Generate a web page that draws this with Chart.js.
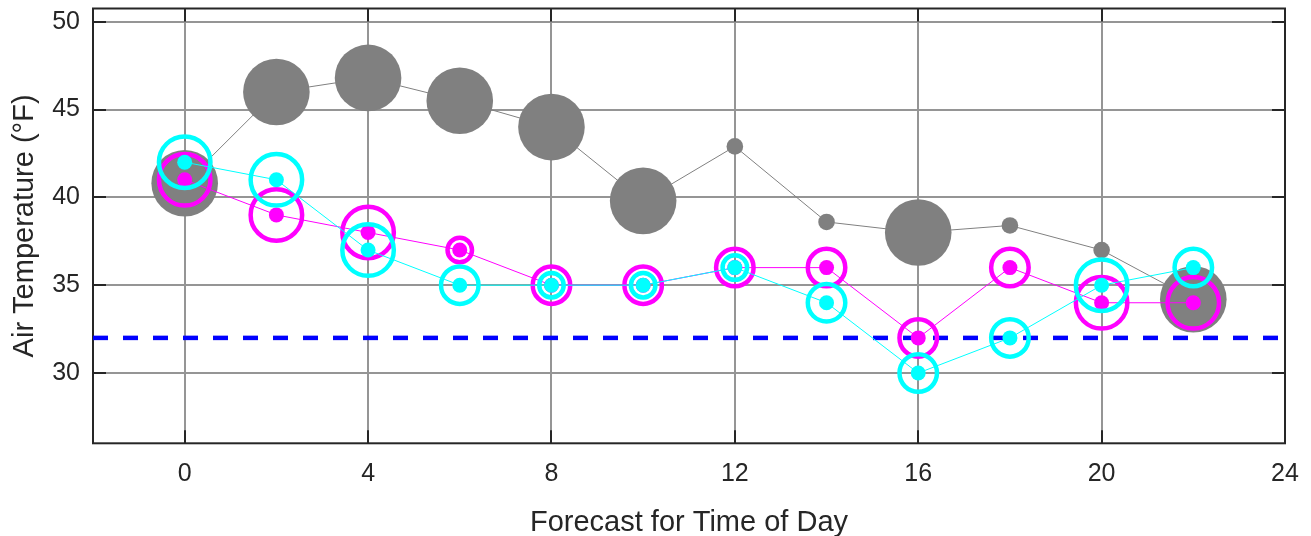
<!DOCTYPE html>
<html><head><meta charset="utf-8">
<script src="https://cdn.jsdelivr.net/npm/chart.js@4/dist/chart.umd.min.js"></script>
<style>html,body{margin:0;padding:0;background:#fff;}#wrap{width:1311px;height:536px;position:relative;}</style>
</head><body><div id="wrap"><canvas id="c"></canvas></div>
<script>
// ---- data ----
const hours = [0, 2, 4, 6, 8, 10, 12, 14, 16, 18, 20, 22];
const observedTemp = [40.8, 46.0, 46.8, 45.5, 44.0, 39.8, 42.9, 38.6, 38.0, 38.4, 37.0, 34.2];
const forecastA = [41, 39, 38, 37, 35, 35, 36, 36, 32, 36, 34, 34];
const forecastB = [42, 41, 37, 35, 35, 35, 36, 34, 30, 32, 35, 36];
const observedLevel = [3, 3, 3, 3, 3, 3, 1, 1, 3, 1, 1, 3];
const forecastALevel = [3, 3, 3, 1, 2, 2, 2, 2, 2, 2, 3, 3];
const forecastBLevel = [3, 3, 3, 2, 1, 1, 1, 2, 2, 2, 3, 2];
const freezingTemp = 32;
const xTicks = [0, 4, 8, 12, 16, 20, 24];
const yTicks = [30, 35, 40, 45, 50];
const xRange = [-2, 24];
const yRange = [26, 50.75];

// ---- styles ----
const GREY = '#808080', MAG = '#ff00ff', CYAN = '#00ffff', BLUE = '#0000ff', INK = '#262626';
const greyRadius = {1: 8.3, 2: 20, 3: 33.3};
const ringOuter = {1: 14.5, 2: 21, 3: 28};
const RING_W = 4.5;
const ringRadius = lv => ringOuter[lv] - RING_W / 2;
const pts = (ys) => hours.map((h, i) => ({x: h, y: ys[i]}));

const frame = {
  id: 'frame',
  beforeDatasetsDraw(chart) {
    const {ctx, chartArea: a, scales: {x, y}} = chart;
    ctx.save();
    ctx.strokeStyle = INK; ctx.lineWidth = 2;
    ctx.beginPath();
    xTicks.forEach(v => {
      const px = Math.round(x.getPixelForValue(v));
      ctx.moveTo(px, a.bottom); ctx.lineTo(px, a.bottom - 13);
      ctx.moveTo(px, a.top); ctx.lineTo(px, a.top + 13);
    });
    yTicks.forEach(v => {
      const py = Math.round(y.getPixelForValue(v));
      ctx.moveTo(a.left, py); ctx.lineTo(a.left + 13, py);
      ctx.moveTo(a.right, py); ctx.lineTo(a.right - 13, py);
    });
    ctx.stroke();
    ctx.strokeRect(a.left, a.top, a.right - a.left, a.bottom - a.top);
    ctx.restore();
  }
};

new Chart(document.getElementById('c'), {
  type: 'scatter',
  data: {
    datasets: [
      {label: 'freezing', data: [{x: xRange[0], y: freezingTemp}, {x: xRange[1], y: freezingTemp}],
       showLine: true, borderColor: BLUE, borderWidth: 4.5, borderDash: [15, 15], pointRadius: 0, order: 10},
      {label: 'observed', data: pts(observedTemp), showLine: true, borderColor: GREY, borderWidth: 1,
       pointRadius: observedLevel.map(l => greyRadius[l]), pointBackgroundColor: GREY, pointBorderWidth: 0, order: 9},
      {label: 'A', data: pts(forecastA), showLine: true, borderColor: MAG, borderWidth: 1,
       pointRadius: 7.5, pointBackgroundColor: MAG, pointBorderWidth: 0, order: 8},
      {label: 'A ring', data: pts(forecastA), showLine: false,
       pointRadius: forecastALevel.map(ringRadius), pointBackgroundColor: 'rgba(0,0,0,0)', pointBorderColor: MAG, pointBorderWidth: RING_W, order: 7},
      {label: 'B', data: pts(forecastB), showLine: true, borderColor: CYAN, borderWidth: 1,
       pointRadius: 7.5, pointBackgroundColor: CYAN, pointBorderWidth: 0, order: 6},
      {label: 'B ring', data: pts(forecastB), showLine: false,
       pointRadius: forecastBLevel.map(ringRadius), pointBackgroundColor: 'rgba(0,0,0,0)', pointBorderColor: CYAN, pointBorderWidth: RING_W, order: 5}
    ]
  },
  options: {
    responsive: true, maintainAspectRatio: false, devicePixelRatio: 1, animation: false,
    layout: {padding: {left: 0, top: 8.5, right: 26, bottom: 0}, autoPadding: false},
    plugins: {legend: {display: false}, tooltip: {enabled: false}},
    elements: {point: {hoverRadius: 0}},
    scales: {
      x: {
        type: 'linear', min: xRange[0], max: xRange[1],
        afterBuildTicks: s => { s.ticks = xTicks.map(v => ({value: v})); },
        afterFit: s => { s.height = 536 - 443.3; s.paddingLeft = 0; s.paddingRight = 0; },
        grid: {color: '#959595', lineWidth: 2, drawTicks: false},
        border: {display: false},
        ticks: {color: INK, padding: 16, font: {family: 'Liberation Sans, Arial, sans-serif', size: 25}, maxRotation: 0, autoSkip: false},
        title: {display: true, text: 'Forecast for Time of Day', color: INK, padding: {top: 0, bottom: 0},
                font: {family: 'Liberation Sans, Arial, sans-serif', size: 29, lineHeight: 0.88}}
      },
      y: {
        type: 'linear', min: yRange[0], max: yRange[1],
        afterBuildTicks: s => { s.ticks = yTicks.map(v => ({value: v})); },
        afterFit: s => { s.width = 93; s.paddingTop = 0; s.paddingBottom = 0; },
        grid: {color: '#959595', lineWidth: 2, drawTicks: false},
        border: {display: false},
        ticks: {color: INK, padding: 13, font: {family: 'Liberation Sans, Arial, sans-serif', size: 25}, autoSkip: false},
        title: {display: true, text: 'Air Temperature (°F)', color: INK, padding: {top: 10.5, bottom: 0},
                font: {family: 'Liberation Sans, Arial, sans-serif', size: 29, lineHeight: 1}}
      }
    }
  },
  plugins: [frame]
});
</script>
</body></html>
